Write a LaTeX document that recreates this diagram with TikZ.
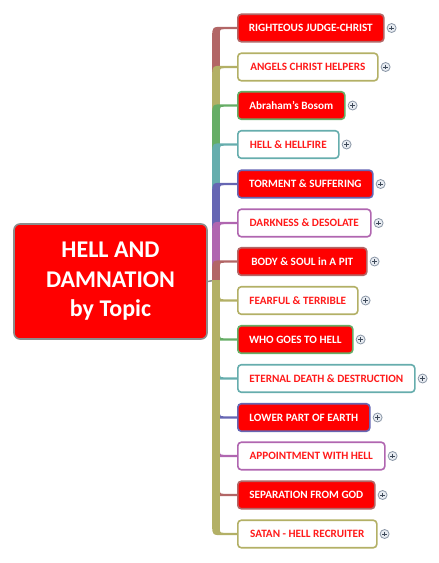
\documentclass[tikz,border=0pt]{standalone}
\usepackage{fontspec}
\setmainfont{Carlito}
\usetikzlibrary{calc}
\definecolor{hred}{HTML}{FF0000}
\definecolor{tred}{HTML}{FF1A1A}
\definecolor{cbrown}{HTML}{B26666}
\definecolor{colive}{HTML}{B3B066}
\definecolor{cgreen}{HTML}{66AD66}
\definecolor{cteal}{HTML}{66ADAD}
\definecolor{cblue}{HTML}{6666B3}
\definecolor{cpurple}{HTML}{B066B0}
\definecolor{rootgray}{HTML}{8C8C8C}
\definecolor{pgray}{HTML}{8A96A6}
\definecolor{pfill}{HTML}{E8ECF2}
\definecolor{pdark}{HTML}{3E4A5A}
\tikzset{
  leaf/.style={draw, line width=1.6pt, rounded corners=3.5pt, minimum height=27.5pt,
    inner xsep=0pt, anchor=west, font=\fontsize{11.2}{13}\selectfont\bfseries},
  redleaf/.style={leaf, fill=hred, text=white},
  whiteleaf/.style={leaf, fill=white, text=tred},
  rootbox/.style={draw=rootgray, line width=1.6pt, fill=hred, text=white, rounded corners=6pt,
    minimum width=193pt, minimum height=115pt, align=center,
    font=\fontsize{24}{29.5}\selectfont\bfseries},
  plusbtn/.style={circle, draw=pgray, fill=pfill, minimum size=9pt, inner sep=0pt, line width=0.8pt,
    path picture={\draw[pdark, line width=0.9pt]
      ($(path picture bounding box.center)+(-2.4,0)$) -- ++(4.8,0)
      ($(path picture bounding box.center)+(0,-2.4)$) -- ++(0,4.8);}},
}
% #1 colour, #2 node, #3 direction (1: node above hub, -1: node below hub)
\newcommand\brch[3]{%
  \draw[#1, line width=7.6pt] let \p1=(hub |- #2.west) in (hub) -- (\x1,{\y1-12pt*(#3)});
  \fill[#1] let \p1=(hub |- #2.west), \p2=(#2.west) in
    ({\x1-3.8pt},{\y1-16pt*(#3)}) -- ({\x1-3.8pt},{\y1-9pt*(#3)})
    .. controls ({\x1-3.8pt},{\y1+1.2pt*(#3)}) .. ({\x1+8pt},{\y1+1.2pt*(#3)})
    -- (\x2,{\y1+1.2pt*(#3)}) -- (\x2,{\y1-1.2pt*(#3)})
    -- ({\x1+9pt},{\y1-1.2pt*(#3)})
    .. controls ({\x1+3.8pt},{\y1-1.2pt*(#3)}) .. ({\x1+3.8pt},{\y1-7pt*(#3)})
    -- ({\x1+3.8pt},{\y1-16pt*(#3)}) -- cycle;
}
\begin{document}
\begin{tikzpicture}[x=1pt,y=-1pt]
\useasboundingbox (0,0) rectangle (439,563);
\node[rootbox] (root) at (110.5,281.5) {HELL AND\\DAMNATION\\by Topic};
\coordinate (hub) at (216,280);

\node[redleaf, draw=cbrown, minimum width=146pt] (n1) at (237,28) {RIGHTEOUS JUDGE-CHRIST};
\node[whiteleaf, draw=colive, minimum width=140pt] (n2) at (237,67) {ANGELS CHRIST HELPERS};
\node[redleaf, draw=cgreen, minimum width=107pt] (n3) at (237,105.5) {Abraham's Bosom};
\node[whiteleaf, draw=cteal, minimum width=101pt] (n4) at (237,144.5) {HELL \& HELLFIRE};
\node[redleaf, draw=cblue, minimum width=135pt] (n5) at (237,184) {TORMENT \& SUFFERING};
\node[whiteleaf, draw=cpurple, minimum width=133pt] (n6) at (237,223) {DARKNESS \& DESOLATE};
\node[redleaf, draw=cbrown, minimum width=129pt] (n7) at (237,261.5) {BODY \& SOUL in A PIT};
\node[whiteleaf, draw=colive, minimum width=120pt] (n8) at (237,300.5) {FEARFUL \& TERRIBLE};
\node[redleaf, draw=cgreen, minimum width=115pt] (n9) at (237,339.5) {WHO GOES TO HELL};
\node[whiteleaf, draw=cteal, minimum width=177pt] (n10) at (237,378.5) {ETERNAL DEATH \& DESTRUCTION};
\node[redleaf, draw=cblue, minimum width=132pt] (n11) at (237,417.5) {LOWER PART OF EARTH};
\node[whiteleaf, draw=cpurple, minimum width=147pt] (n12) at (237,456) {APPOINTMENT WITH HELL};
\node[redleaf, draw=cbrown, minimum width=137pt] (n13) at (237,495) {SEPARATION FROM GOD};
\node[whiteleaf, draw=colive, minimum width=139pt] (n14) at (237,534) {SATAN - HELL RECRUITER};

\foreach \i in {1,...,14} {\node[plusbtn] (p\i) at ($(n\i.east)+(7,0)$) {};}

\draw[rootgray, line width=1.5pt] (root.east) -- (hub);
\brch{cbrown}{n1}{1}
\brch{colive}{n2}{1}
\brch{cgreen}{n3}{1}
\brch{cteal}{n4}{1}
\brch{cblue}{n5}{1}
\brch{cpurple}{n6}{1}
\brch{cbrown}{n7}{1}
\brch{colive}{n8}{-1}
\brch{cgreen}{n9}{-1}
\brch{cteal}{n10}{-1}
\brch{cblue}{n11}{-1}
\brch{cpurple}{n12}{-1}
\brch{cbrown}{n13}{-1}
\brch{colive}{n14}{-1}
\end{tikzpicture}
\end{document}
